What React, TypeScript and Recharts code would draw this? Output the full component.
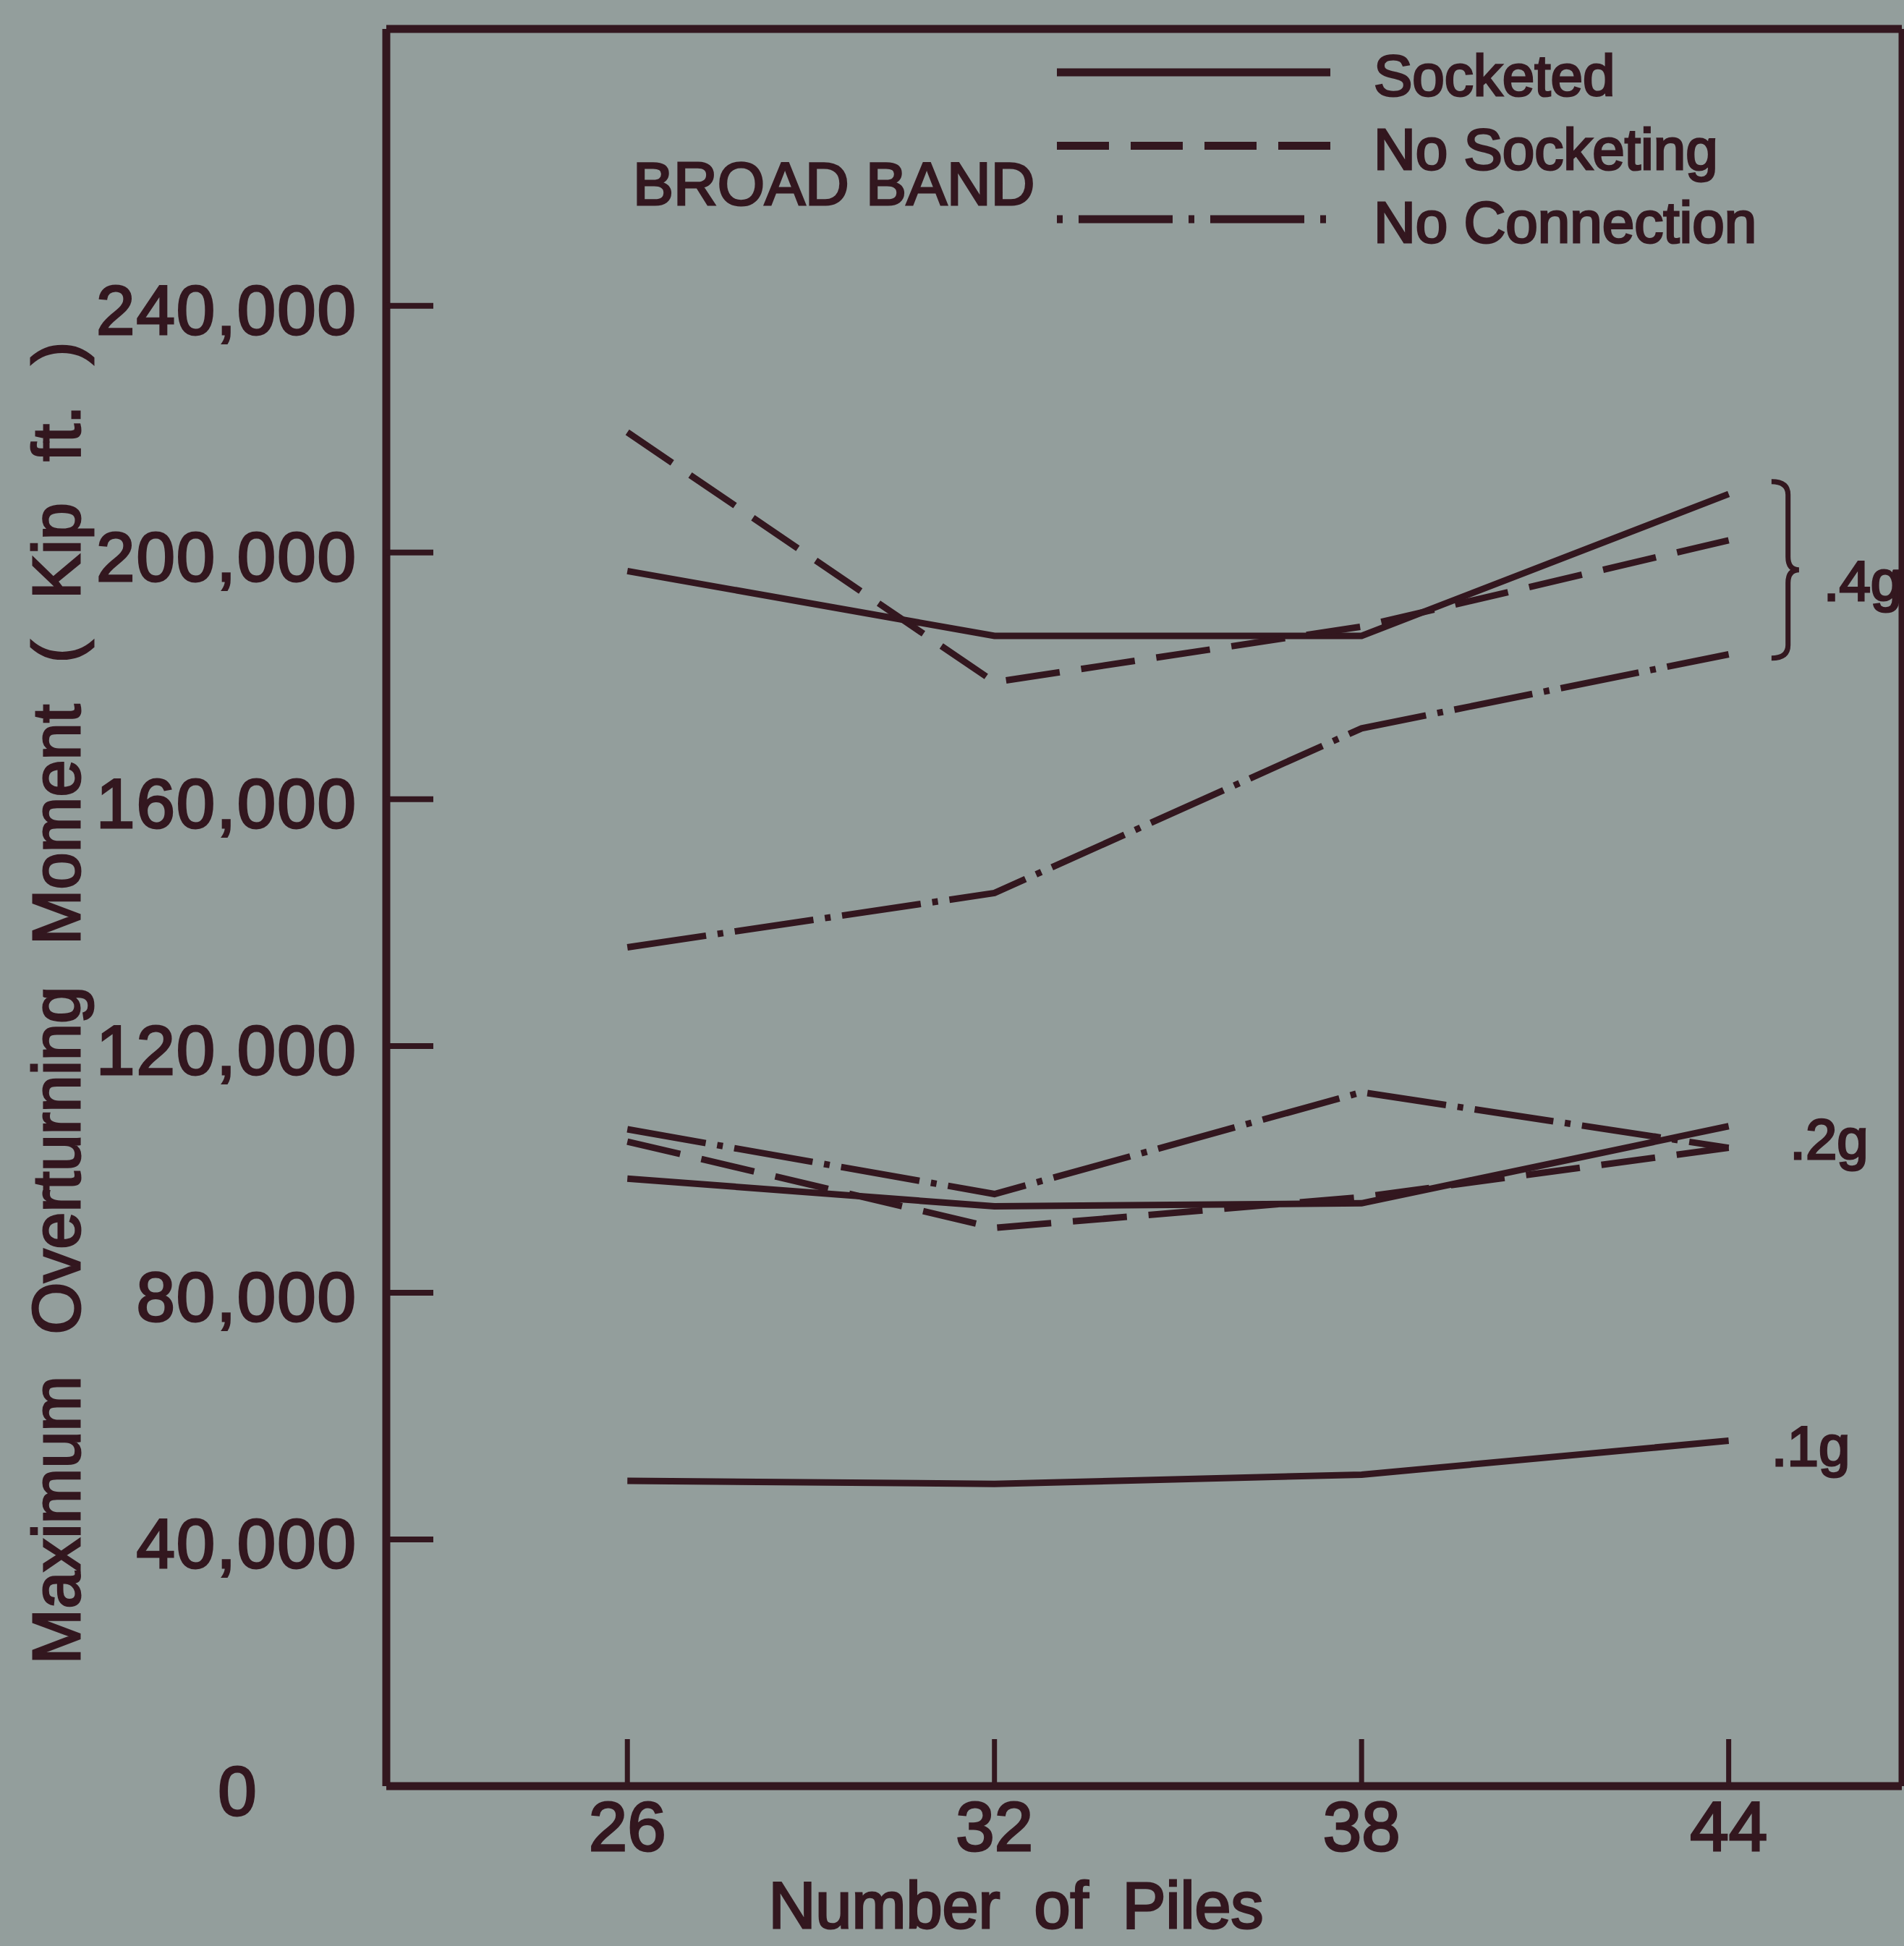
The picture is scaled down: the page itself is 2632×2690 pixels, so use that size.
import React from 'react';
import {
    LineChart,
    Line,
    XAxis,
    YAxis,
    Legend,
    ReferenceArea,
    ReferenceDot,
    ReferenceLine
} from 'recharts';

// values (kip ft.)
const piles = [26, 32, 38, 44];
const socketed04g = [197000, 186500, 186500, 209500];
const noSocketing04g = [219500, 179000, 188000, 202000];
const noConnection04g = [136000, 144800, 171500, 183500];
const socketed02g = [98500, 94000, 94500, 107000];
const noSocketing02g = [104500, 90500, 95500, 103500];
const noConnection02g = [106500, 96000, 112500, 103500];
const socketed01g = [49500, 49000, 50500, 56000];

const yTicks = [0, 40000, 80000, 120000, 160000, 200000, 240000];
const legendNames = ['Socketed', 'No Socketing', 'No Connection'];
const levelLabels = ['.4g', '.2g', '.1g'];
const levelLabelX = [45.55, 45.0, 44.7];
const levelLabelY = [195400, 104900, 55100];
const braceX = [44.7, 45.15];
const braceY = [182900, 211500];
const xDomain = [22.06, 46.83];
const yDomain = [0, 284900];

const INK = '#33171f';
const BG = '#939e9c';
const FONT = '"Liberation Sans", Arial, sans-serif';
const DASHED = '75 30';
const DASH_DOT = '110 16 8 16';

const data = piles.map((p, i) => ({
    piles: p,
    s4: socketed04g[i],
    ns4: noSocketing04g[i],
    nc4: noConnection04g[i],
    s2: socketed02g[i],
    ns2: noSocketing02g[i],
    nc2: noConnection02g[i],
    s1: socketed01g[i],
}));

const series = [
    { key: 's4', dash: undefined },
    { key: 'ns4', dash: DASHED },
    { key: 'nc4', dash: DASH_DOT },
    { key: 's2', dash: undefined },
    { key: 'ns2', dash: DASHED },
    { key: 'nc2', dash: DASH_DOT },
    { key: 's1', dash: undefined },
];

// heavier lettering, like the drafting stencil in the scan
const ink = { fill: INK, stroke: INK, strokeWidth: 3, fontFamily: FONT };

const YTick = (props: any) => {
    const { x, y, payload } = props;
    const v = payload.value;
    if (v === 0) {
        return (
            <text x={x - 206} y={y + 6} textAnchor="middle" dominantBaseline="central"
                fontSize={96} {...ink}>0</text>
        );
    }
    return (
        <g>
            <line x1={x} x2={x + 65} y1={y} y2={y} stroke={INK} strokeWidth={8} />
            <text x={x - 40} y={y + 6} textAnchor="end" dominantBaseline="central"
                fontSize={96} letterSpacing={2} {...ink}>
                {v.toLocaleString('en-US')}
            </text>
        </g>
    );
};

const XTick = (props: any) => {
    const { x, y, payload } = props;
    return (
        <g>
            <line x1={x} x2={x} y1={y} y2={y - 65} stroke={INK} strokeWidth={7} />
            <text x={x} y={y + 55} textAnchor="middle" dominantBaseline="central"
                fontSize={96} {...ink}>
                {payload.value}
            </text>
        </g>
    );
};

const YLabel = (props: any) => {
    const vb = props.viewBox || { x: 0, y: 40, width: 534, height: 2429 };
    const cx = vb.x + 110;
    const cy = vb.y + vb.height / 2 + 132;
    return (
        <text x={cx} y={cy} transform={`rotate(-90, ${cx}, ${cy})`} textAnchor="middle"
            fontSize={92} wordSpacing={32} {...ink}>
            Maximum Overturning Moment ( Kip ft. )
        </text>
    );
};

const XLabel = (props: any) => {
    const vb = props.viewBox || { x: 534, y: 2469, width: 2091, height: 221 };
    return (
        <text x={vb.x + vb.width / 2 - 177} y={vb.y + 196} textAnchor="middle"
            fontSize={90} wordSpacing={22} {...ink}>
            Number of Piles
        </text>
    );
};

const LegendBox = () => {
    const dashes = [undefined, '72 30', '8 22 130 22'];
    return (
        <svg width={2632} height={400} style={{ overflow: 'visible', display: 'block' }}>
            <text x={875} y={254} dominantBaseline="central" fontSize={84} {...ink}>
                BROAD BAND
            </text>
            {legendNames.map((name, i) => {
                const ly = 100 + i * 101.5;
                return (
                    <g key={name}>
                        <line x1={1461} x2={1839} y1={ly} y2={ly} stroke={INK}
                            strokeWidth={11} strokeDasharray={dashes[i]} />
                        <text x={1899} y={ly + 32} fontSize={80} {...ink}>{name}</text>
                    </g>
                );
            })}
        </svg>
    );
};

const Brace = (props: any) => {
    const { x, y, width: w, height: h } = props;
    const sx = x + w * 0.6;
    const my = y + h / 2;
    const d = `M ${x} ${y} Q ${sx} ${y} ${sx} ${y + 18} L ${sx} ${my - 18} Q ${sx} ${my} ${x + w} ${my}`
        + ` Q ${sx} ${my} ${sx} ${my + 18} L ${sx} ${y + h - 18} Q ${sx} ${y + h} ${x} ${y + h}`;
    return <path d={d} fill="none" stroke={INK} strokeWidth={7} />;
};

export default function App() {
    return (
        <div style={{ width: 2632, height: 2690, background: BG, position: 'relative' }}>
            <style>{`body{margin:0;background:${BG};}`}</style>
            <LineChart width={2632} height={2690} data={data}
                margin={{ top: 40, right: 3, bottom: 0, left: 0 }}>
                <XAxis dataKey="piles" type="number" domain={xDomain} ticks={piles}
                    allowDataOverflow tickSize={0} tickMargin={0} tickLine={false} height={221}
                    axisLine={{ stroke: INK, strokeWidth: 11 }} tick={<XTick />} label={<XLabel />} />
                <YAxis type="number" domain={yDomain} ticks={yTicks} allowDataOverflow
                    width={534} tickSize={0} tickMargin={0} tickLine={false} interval={0}
                    axisLine={{ stroke: INK, strokeWidth: 11 }} tick={<YTick />} label={<YLabel />} />
                {/* top and right sides of the frame */}
                <ReferenceLine y={yDomain[1]} stroke={INK} strokeWidth={11} />
                <ReferenceLine x={xDomain[1]} stroke={INK} strokeWidth={9} />
                <Legend layout="horizontal" verticalAlign="middle" align="center"
                    wrapperStyle={{ top: 0, left: 0, width: 2632, height: 400 }}
                    content={<LegendBox />} />
                {series.map(s => (
                    <Line key={s.key} dataKey={s.key} type="linear" stroke={INK} strokeWidth={9}
                        strokeDasharray={s.dash} dot={false} activeDot={false}
                        legendType="none" isAnimationActive={false} />
                ))}
                <ReferenceArea x1={braceX[0]} x2={braceX[1]} y1={braceY[0]} y2={braceY[1]}
                    shape={<Brace />} />
                {levelLabels.map((t, i) => (
                    <ReferenceDot key={t} x={levelLabelX[i]} y={levelLabelY[i]} r={1}
                        shape={(p: any) => (
                            <text x={p.cx} y={p.cy} dominantBaseline="central"
                                fontSize={78} {...ink}>{t}</text>
                        )} />
                ))}
            </LineChart>
        </div>
    );
}
